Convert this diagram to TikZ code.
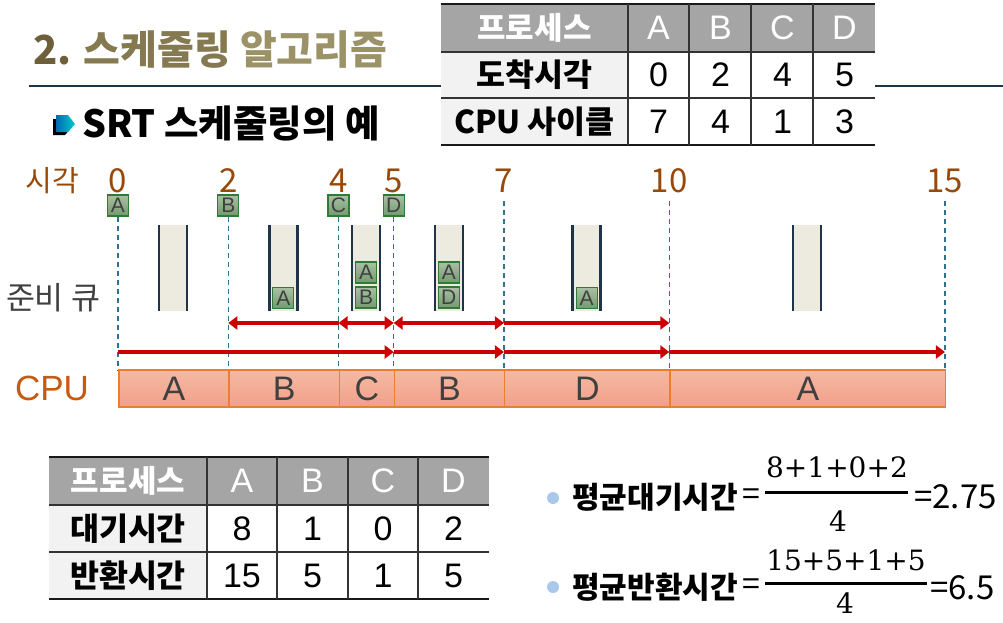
\documentclass[tikz,border=0pt]{standalone}
\usepackage{fontspec}
\setmainfont{Noto Sans CJK KR}
\newfontfamily\latfont{Liberation Sans}
\newfontfamily\serfont{DejaVu Serif}
\usetikzlibrary{arrows.meta}

\newcommand\fsz[1]{\fontsize{#1}{#1}\selectfont}

\definecolor{ttlA}{HTML}{6D5F3A}
\definecolor{ttlB}{HTML}{85794F}
\definecolor{ttlC}{HTML}{9C9268}
\definecolor{navy}{HTML}{1F3349}
\definecolor{hdrgray}{HTML}{A5A5A5}
\definecolor{keygray}{HTML}{F2F2F2}
\definecolor{brown}{HTML}{984807}
\definecolor{cpuorange}{HTML}{C55A11}
\definecolor{txtgray}{HTML}{404040}
\definecolor{boxgreen}{HTML}{2F7A35}
\definecolor{boxtop}{HTML}{A9C0A4}
\definecolor{boxbot}{HTML}{729A6E}
\definecolor{dashblue}{HTML}{31708F}
\definecolor{tubefill}{HTML}{EDEAE0}
\definecolor{arrred}{HTML}{CC0000}
\definecolor{segline}{HTML}{ED7D31}
\definecolor{segtop}{HTML}{F5B9A4}
\definecolor{segbot}{HTML}{F1A088}
\definecolor{dotblue}{HTML}{A9C8EA}

\begin{document}
\begin{tikzpicture}[x=1pt, y=-1pt,
  hcell/.style={text=white, font=\fsz{31}\bfseries, inner sep=0},
  hlet/.style={text=white, font=\latfont\fsz{34}, inner sep=0},
  kcell/.style={text=black, font=\fsz{31.5}\bfseries, inner sep=0},
  vcell/.style={text=black, font=\latfont\fsz{34}, inner sep=0},
  thick line/.style={draw=black!90, line width=2.6},
  thin line/.style={draw=black!80, line width=1.3},
  tnum/.style={text=brown, font=\fsz{33}, inner sep=0},
  pbox/.style={draw=boxgreen, line width=1.2, top color=boxtop,
               bottom color=boxbot, minimum width=21, minimum height=21,
               inner sep=0, text=txtgray, font=\latfont\fsz{21}},
  dashline/.style={draw=dashblue, line width=1.3, dash pattern=on 5pt off 4pt},
  tubeside/.style={draw=navy, line width=2.5},
  redarr/.style={draw=arrred, line width=3.5,
                 arrows={-Triangle[length=9pt,width=13pt]}},
  cpuseg/.style={draw=segline, line width=1.5, top color=segtop,
                 bottom color=segbot, minimum height=37, inner sep=0,
                 text=txtgray, font=\latfont\fsz{34}},
  fmltxt/.style={font=\fsz{30}\bfseries, inner sep=0},
  fracnum/.style={font=\serfont\fsz{28}, inner sep=0},
  fracbar/.style={draw=black, line width=3},
  bullet/.style={circle, fill=dotblue, minimum size=12, inner sep=0}
]
\useasboundingbox (0,0) rectangle (1003,622);

% title and rule
\node[anchor=west, inner sep=0, font=\fsz{40}\bfseries] (title) at (33,50)
  {\textcolor{ttlA}{2.} \textcolor{ttlB}{스케줄링} \textcolor{ttlC}{알고리즘}};
\draw[navy, line width=2] (29,86) -- (1003,86);
\fill[black] (53,119) -- (65,119) -- (72,127) -- (65,135) -- (53,135) -- cycle;
\shade[left color=cyan!60!blue!70!black, right color=cyan!60!teal]
  (56,115) -- (68,115) -- (75,124) -- (68,132) -- (56,132) -- cycle;
\node[anchor=west, inner sep=0, font=\fsz{37.5}\bfseries] (sub) at (82,123)
  {SRT 스케줄링의 예};

% arrival table
\fill[hdrgray] (441,4) rectangle (875,52);
\fill[keygray] (441,52) rectangle (628,145);
\fill[white] (628,52) rectangle (875,145);
\node[hcell] (pH) at (534.5,28) {프로세스};
\node[kcell] (pArr) at (534.5,75) {도착시각};
\node[kcell] (pCyc) at (534.5,121.5) {CPU 사이클};
\foreach \p [count=\i] in {A,B,C,D}
  \node[hlet] (ph\p) at ({596.5+62*\i},28) {\p};
\foreach \v [count=\i] in {0,2,4,5}
  \node[vcell] (arr\i) at ({596.5+62*\i},75) {\v};
\foreach \v [count=\i] in {7,4,1,3}
  \node[vcell] (cyc\i) at ({596.5+62*\i},121.5) {\v};
\draw[thick line] (441,4) -- (875,4) (441,145) -- (875,145);
\draw[thin line] (441,52) -- (875,52) (441,98) -- (875,98);
\foreach \x in {628,689,751,813}
  \draw[thin line] (\x,4) -- (\x,145);

% time axis
\node[text=brown, font=\fsz{29}, inner sep=0] (tlbl) at (52,181) {시각};
\node[text=txtgray, font=\fsz{31.5}, inner sep=0] (qlbl) at (53,298) {준비 큐};
\node[text=cpuorange, font=\latfont\fsz{35}, inner sep=0] (clbl) at (52,388) {CPU};
\foreach \t in {0,2,4,5,7,10,15} {
  \node[tnum] (n\t) at ({118+55.13*\t},181) {\t};
  \coordinate (u\t) at ({118+55.13*\t},201);
  \coordinate (b\t) at ({118+55.13*\t},370);
  \coordinate (r\t) at ({118+55.13*\t},323);
  \coordinate (s\t) at ({118+55.13*\t},352);
}
\foreach \t/\p in {0/A,2/B,4/C,5/D}
  \node[pbox] (l\p) at ({118+55.13*\t},205.5) {\p};
\foreach \p/\t in {A/0,B/2,C/4,D/5}
  \draw[dashline] (l\p.south) -- (b\t);
\foreach \t in {7,10,15}
  \draw[dashline] (u\t) -- (b\t);

% ready queue
\foreach \c in {1,3,4.5,6,8.5,12.5} {
  \fill[tubefill] ({118+55.13*\c-14},225) rectangle ({118+55.13*\c+14},311);
  \draw[tubeside] ({118+55.13*\c-14},225) -- ({118+55.13*\c-14},311)
                  ({118+55.13*\c+14},225) -- ({118+55.13*\c+14},311);
}
\node[pbox] (q1) at ({118+55.13*3},298) {A};
\node[pbox] (q2) at ({118+55.13*4.5},272.5) {A};
\node[pbox] (q3) at ({118+55.13*4.5},297.5) {B};
\node[pbox] (q4) at ({118+55.13*6},272.5) {A};
\node[pbox] (q5) at ({118+55.13*6},297.5) {D};
\node[pbox] (q6) at ({118+55.13*8.5},298) {A};

% intervals
\draw[redarr, arrows={Triangle[length=9pt,width=13pt]-}] (r2) -- (r4);
\draw[redarr, arrows={Triangle[length=9pt,width=13pt]-Triangle[length=9pt,width=13pt]}] (r4) -- (r5);
\draw[redarr, arrows={Triangle[length=9pt,width=13pt]-Triangle[length=9pt,width=13pt]}] (r5) -- (r7);
\draw[redarr] (r7) -- (r10);
\draw[redarr] (s0) -- (s5);
\draw[redarr] (s5) -- (s7);
\draw[redarr] (s7) -- (s10);
\draw[redarr] (s10) -- (s15);

% cpu bar
\foreach \a/\b/\p in {0/2/A,2/4/B,4/5/C,5/7/B,7/10/D,10/15/A}
  \node[cpuseg, anchor=west, minimum width={(\b-\a)*55.13}] (c\a)
    at ({118+55.13*\a},388.5) {\p};

% result table
\fill[hdrgray] (49,457) rectangle (489,505);
\fill[keygray] (49,505) rectangle (207,599);
\node[hcell] (rH) at (128,481) {프로세스};
\node[kcell] (rWait) at (128,528.5) {대기시간};
\node[kcell] (rTurn) at (128,575.5) {반환시간};
\foreach \p [count=\i] in {A,B,C,D}
  \node[hlet] (rh\p) at ({171.5+70.5*\i},481) {\p};
\foreach \v [count=\i] in {8,1,0,2}
  \node[vcell] (wt\i) at ({171.5+70.5*\i},528.5) {\v};
\foreach \v [count=\i] in {15,5,1,5}
  \node[vcell] (ta\i) at ({171.5+70.5*\i},575.5) {\v};
\draw[thick line] (49,457) -- (489,457) (49,599) -- (489,599);
\draw[thin line] (49,505) -- (489,505) (49,552) -- (489,552);
\foreach \x in {207,277,348,418}
  \draw[thin line] (\x,457) -- (\x,599);

% averages
\node[bullet] (d1) at (553,498) {};
\node[fmltxt, anchor=west] (w1) at (572,497.5) {평균대기시간};
\node[font=\fsz{32}, inner sep=0] (e1) at (751,497) {=};
\node[fracnum] (num1) at (837,467) {8+1+0+2};
\draw[fracbar] (765,492) -- (908,492);
\node[fracnum] (den1) at (838,521) {4};
\node[font=\fsz{33}, inner sep=0, anchor=west] (res1) at (914,497) {=2.75};

\node[bullet] (d2) at (553,587) {};
\node[fmltxt, anchor=west] (w2) at (572,587.5) {평균반환시간};
\node[font=\fsz{32}, inner sep=0] (e2) at (751,587) {=};
\node[fracnum] (num2) at (846,560.5) {15+5+1+5};
\draw[fracbar] (765,583) -- (927,583);
\node[fracnum] (den2) at (845,603) {4};
\node[font=\fsz{33}, inner sep=0, anchor=west] (res2) at (930,588) {=6.5};
\end{tikzpicture}
\end{document}
